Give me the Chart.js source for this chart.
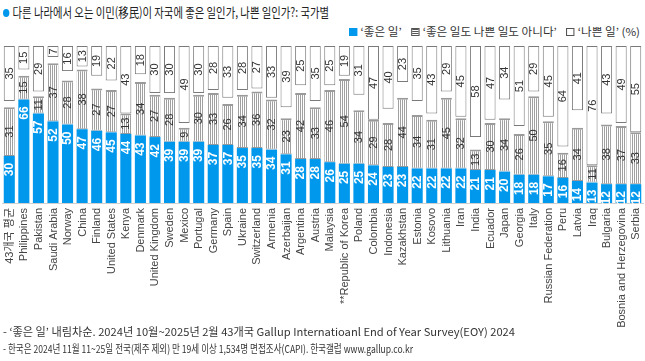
<!DOCTYPE html>
<html><head><meta charset="utf-8">
<script src="https://cdn.jsdelivr.net/npm/chart.js@4/dist/chart.umd.min.js"></script>
<style>
html,body{margin:0;padding:0;background:#fff;}
body{width:645px;height:361px;overflow:hidden;position:relative;font-family:"Noto Sans CJK KR","Liberation Sans",sans-serif;color:#222;}
.line{position:absolute;white-space:nowrap;transform-origin:0 50%;line-height:1;}
#title{left:3px;top:5px;font-size:13px;color:#222;}
#title .dot{display:inline-block;width:8px;height:8px;border-radius:50%;background:#0098ec;margin-right:4px;vertical-align:0px;}
#legend{left:349px;top:26px;font-size:11px;color:#333;}
.sw{display:inline-block;width:8px;height:8px;box-sizing:border-box;margin-right:3px;vertical-align:-0px;}
.sw.g{background:#0098ec;}
.sw.n{border:1px solid #555;background:repeating-linear-gradient(to bottom,#555 0 1px,#fff 1px 2px);}
.sw.b{border:1px solid #555;background:#fff;}
.gap{display:inline-block;width:9px;}
#f1{left:3px;top:326px;font-size:11px;color:#333;}
#f2{left:3px;top:343px;font-size:11px;color:#333;}
#wrap{position:absolute;left:0;top:40px;width:645px;height:290px;}
#wrap canvas{display:block;}
</style>
</head><body>
<div id="title" class="line"><span class="dot"></span>다른 나라에서 오는 이민(移民)이 자국에 좋은 일인가, 나쁜 일인가?: 국가별</div>
<div id="legend" class="line"><span class="sw g"></span>‘좋은 일’<span class="gap"></span><span class="sw n"></span>‘좋은 일도 나쁜 일도 아니다’<span class="gap"></span><span class="sw b"></span>‘나쁜 일’ (%)</div>
<div id="wrap"><canvas id="c" width="645" height="290"></canvas></div>
<div id="f1" class="line">- ‘좋은 일’ 내림차순. 2024년 10월~2025년 2월 43개국 Gallup Internatioanl End of Year Survey(EOY) 2024</div>
<div id="f2" class="line">- 한국은 2024년 11월 11~25일 전국(제주 제외) 만 19세 이상 1,534명 면접조사(CAPI). 한국갤럽 www.gallup.co.kr</div>
<script>
const categories = ["43개국 평균","Philippines","Pakistan","Saudi Arabia","Norway","China","Finland","United States","Kenya","Denmark","United Kingdom","Sweden","Mexico","Portugal","Germany","Spain","Ukraine","Switzerland","Armenia","Azerbaijan","Argentina","Austria","Malaysia","**Republic of Korea","Poland","Colombia","Indonesia","Kazakhstan","Estonia","Kosovo","Lithuania","Iran","India","Ecuador","Japan","Georgia","Italy","Russian Federation","Peru","Latvia","Iraq","Bulgaria","Bosnia and Herzegovina","Serbia"];
const good    = [30,66,57,52,50,47,46,45,44,43,42,39,39,39,37,37,35,35,34,31,28,28,26,25,25,24,23,23,22,22,22,22,21,21,20,18,18,17,16,14,13,12,12,12];
const neutral = [31,15,11,37,28,38,27,27,13,34,27,28, 9,30,33,26,34,36,32,23,42,33,46,54,34,29,28,44,34,31,45,32,13,30,34,26,50,35,16,34,11,38,37,33];
const bad     = [35,15,29, 7,16,13,19,22,43,18,30,30,49,30,28,33,28,27,33,39,25,35,25,19,31,47,40,23,35,43,29,45,58,47,34,51,29,45,64,41,76,43,49,55];

function fit(id, w){
  const el=document.getElementById(id);
  const r=el.getBoundingClientRect().width;
  el.style.transform='scaleX('+(w/r)+')';
}
fit('title',326); fit('legend',291); fit('f1',512); fit('f2',410);

const pc=document.createElement('canvas'); pc.width=2; pc.height=2;
const px=pc.getContext('2d'); px.fillStyle='#fff'; px.fillRect(0,0,2,2); px.fillStyle='#a0a0a0'; px.fillRect(0,0,1,2);
const ctx0=document.getElementById('c').getContext('2d');
const stripe=ctx0.createPattern(pc,'repeat');

const labelPlugin={
  id:'vlabels',
  afterDatasetsDraw(chart){
    const ctx=chart.ctx;
    const sets=[good,neutral,bad];
    chart.data.datasets.forEach((ds,di)=>{
      const meta=chart.getDatasetMeta(di);
      meta.data.forEach((el,i)=>{
        const v=sets[di][i];
        const top=Math.min(el.y,el.base), bot=Math.max(el.y,el.base);
        ctx.save();
        ctx.textBaseline='middle';
        if(di===0){
          ctx.font='bold 12px "Liberation Sans", Arial, sans-serif';
          ctx.fillStyle='#fff';
          ctx.translate(el.x+0.5, top+7);
          ctx.rotate(-Math.PI/2);
          ctx.textAlign='right';
        } else {
          ctx.font='11px "Liberation Sans", Arial, sans-serif';
          ctx.fillStyle='#333';
          ctx.translate(el.x+0.5,(top+bot)/2);
          ctx.rotate(-Math.PI/2);
          ctx.textAlign='center';
        }
        ctx.fillText(String(v),0,0);
        ctx.restore();
      });
    });
    // category labels under the axis, from the x scale
    const xs=chart.scales.x;
    ctx.save();
    ctx.font='11px "Liberation Sans", "Noto Sans CJK KR", Arial, sans-serif';
    ctx.fillStyle='#444';
    ctx.textBaseline='middle';
    ctx.textAlign='right';
    categories.forEach((c,i)=>{
      ctx.save();
      ctx.translate(xs.getPixelForTick(i)+0.5, chart.chartArea.bottom+5);
      ctx.rotate(-Math.PI/2);
      ctx.fillText(c,0,0);
      ctx.restore();
    });
    ctx.restore();
  }
};

new Chart(ctx0,{
  type:'bar',
  data:{
    labels:categories,
    datasets:[
      {label:'좋은 일',data:good.map(v=>[0,v]),backgroundColor:'#0098ec',borderWidth:0},
      {label:'좋은 일도 나쁜 일도 아니다',data:neutral.map((v,i)=>[good[i],good[i]+v]),backgroundColor:stripe,borderColor:'#9a9a9a',borderWidth:{top:2,bottom:1,left:0,right:0},borderSkipped:false},
      {label:'나쁜 일',data:bad.map(v=>[100-v,100]),backgroundColor:'#fff',borderColor:'#7a7a7a',borderWidth:1,borderSkipped:false}
    ]
  },
  options:{
    responsive:false,animation:false,devicePixelRatio:1,
    layout:{padding:{top:6,left:2,right:2,bottom:0}},
    plugins:{legend:{display:false},tooltip:{enabled:false}},
    datasets:{bar:{barPercentage:0.76,categoryPercentage:1}},
    scales:{
      x:{stacked:true,grid:{display:false},border:{display:true,color:'#d0d0d0',width:1},
         ticks:{display:false},
         afterFit(s){s.height=127;}},
      y:{display:false,stacked:false,min:0,max:100}
    }
  },
  plugins:[labelPlugin]
});
</script>
</body></html>
